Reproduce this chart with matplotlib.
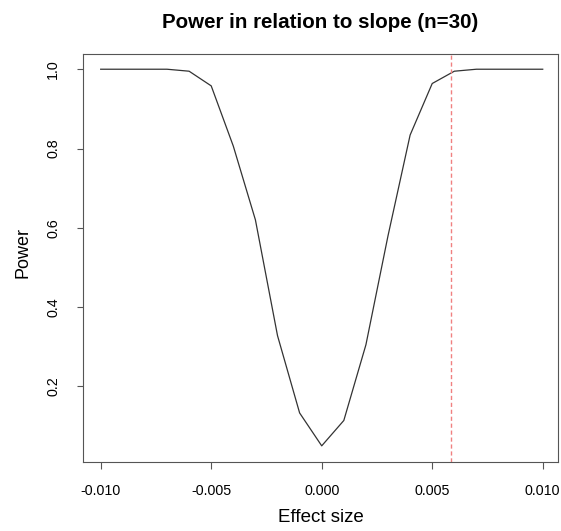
import matplotlib
matplotlib.use("Agg")
import matplotlib.pyplot as plt

# effect sizes (slope) and simulated power
effect_size = [-0.010, -0.009, -0.008, -0.007, -0.006, -0.005, -0.004, -0.003,
               -0.002, -0.001, 0.000, 0.001, 0.002, 0.003, 0.004, 0.005,
               0.006, 0.007, 0.008, 0.009, 0.010]
power = [1.000, 1.000, 1.000, 1.000, 0.995, 0.958, 0.806, 0.620,
         0.328, 0.133, 0.050, 0.114, 0.305, 0.580, 0.834, 0.964,
         0.995, 1.000, 1.000, 1.000, 1.000]
threshold = 0.00584  # red dashed reference line

xticks = [-0.010, -0.005, 0.000, 0.005, 0.010]
xticklabels = ["-0.010", "-0.005", "0.000", "0.005", "0.010"]
yticks = [0.2, 0.4, 0.6, 0.8, 1.0]
yticklabels = ["0.2", "0.4", "0.6", "0.8", "1.0"]

plt.rcParams['font.family'] = ['Liberation Sans', 'DejaVu Sans']

fig = plt.figure(figsize=(5.61, 5.31), dpi=100)
ax = fig.add_axes([0.148, 0.1305, 0.847, 0.7675])

ax.plot(effect_size, power, color='#333333', linewidth=0.9)
ax.axvline(threshold, color='#f08080', linestyle=(0, (3, 2)), linewidth=1.0)

ax.set_xlim(-0.0108, 0.0107)
ax.set_ylim(0.010, 1.038)

ax.set_xticks(xticks)
ax.set_xticklabels(xticklabels, fontsize=10.3)
ax.set_yticks(yticks)
ax.set_yticklabels(yticklabels, fontsize=10.3, rotation=90, va='center')
ax.tick_params(axis='x', length=5, width=0.8, color='#555555', pad=11)
ax.tick_params(axis='y', length=4.5, width=0.8, color='#555555', pad=12)

for sp in ax.spines.values():
    sp.set_color('#555555')
    sp.set_linewidth(0.8)

fig.text(0.5 * (0.148 + 0.995), 1 - 22 / 531, "Power in relation to slope (n=30)",
         ha='center', va='center', fontsize=14.8, fontweight='bold')
fig.text(0.5 * (0.148 + 0.995), 1 - 518 / 531, "Effect size",
         ha='center', va='center', fontsize=13.5)
fig.text(23 / 561, 1 - 253 / 531, "Power", rotation=90,
         ha='center', va='center', fontsize=13)

fig.savefig("out.png", dpi=100)
